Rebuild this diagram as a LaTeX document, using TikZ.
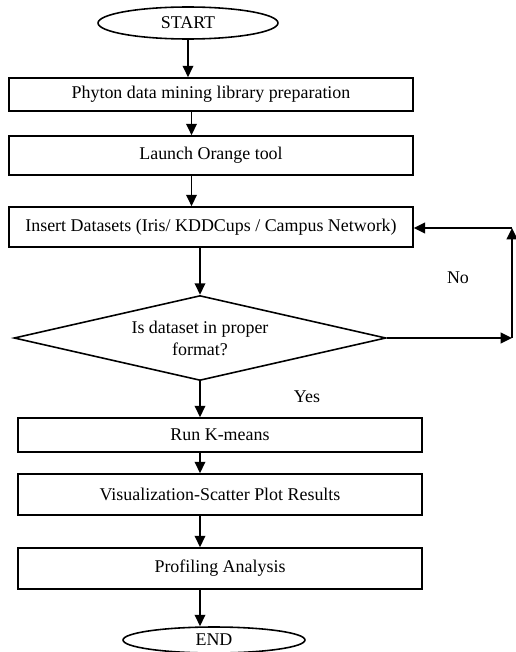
\documentclass[tikz,border=0pt]{standalone}
\usepackage{fontspec}
\setmainfont{Liberation Serif}
\usetikzlibrary{arrows.meta,positioning,shapes.geometric}

\begin{document}
\begin{tikzpicture}[
  x=0.02cm, y=-0.02cm,
  font=\fontsize{10.2}{12.5}\selectfont,
  box/.style={draw, line width=0.9pt, minimum width=8.08cm, inner sep=0pt, align=center},
  term/.style={draw, ellipse, line width=0.9pt, inner sep=0pt},
  decision/.style={draw, diamond, aspect=4.4, line width=0.9pt, inner sep=0pt, align=center, minimum width=7.44cm, minimum height=1.7cm},
  arr/.style={-{Triangle[length=6.5pt,width=6pt]}, line width=1pt},
  loop/.style={-{Triangle[length=6.5pt,width=6pt]}, line width=1.3pt}
]
  \useasboundingbox (0,0) rectangle (515,652);

  \node[term, minimum width=3.6cm, minimum height=0.64cm] (start) at (188,23) {START};
  \node[box, minimum height=0.66cm] (prep) at (211,94.5) {Phyton data mining library preparation};
  \node[box, minimum height=0.78cm] (launch) at (211,155.5) {Launch Orange tool};
  \node[box, minimum height=0.8cm] (insert) at (211,227) {Insert Datasets (Iris/ KDDCups / Campus Network)};
  \node[decision] (check) at (200,338) {Is dataset in proper\\format?};
  \node[box, minimum height=0.68cm] (kmeans) at (220,435) {Run K-means};
  \node[box, minimum height=0.82cm] (scatter) at (220,494.5) {Visualization-Scatter Plot Results};
  \node[box, minimum height=0.82cm] (profile) at (220,568.5) {Profiling Analysis};
  \node[term, minimum width=3.64cm, minimum height=0.52cm] (end) at (214,640) {END};

  \coordinate (noB) at (512,338);
  \coordinate (noT) at (512,228);
  \node (no) at (458,278) {No};
  \node (yes) at (307,397) {Yes};

  \draw[arr] (start) -- (start |- prep.north);
  \draw[arr] ([xshift=2pt]prep.south -| start) -- ([xshift=2pt]launch.north -| start);
  \draw[arr] ([xshift=2pt]launch.south -| start) -- ([xshift=2pt]insert.north -| start);
  \draw[arr] (insert.south -| check) -- (check);
  \draw[arr] (check) -- (check |- kmeans.north);
  \draw[arr] (kmeans.south -| check) -- (scatter.north -| check);
  \draw[arr] (scatter.south -| check) -- (profile.north -| check);
  \draw[arr] (profile.south -| check) -- (check |- end.north);

  % No branch back to the datasets
  \draw[loop] (check.east) -- (noB);
  \draw[loop] (noB) -- (noT);
  \draw[loop] (noT) -- (insert.east |- noT);
\end{tikzpicture}
\end{document}
